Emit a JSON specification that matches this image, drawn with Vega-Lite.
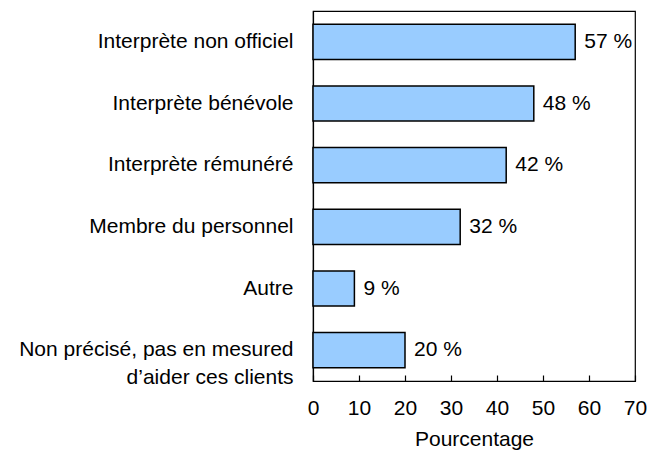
{
  "$schema": "https://vega.github.io/schema/vega-lite/v6.json",
  "width": 322,
  "height": 370,
  "autosize": {"type": "none"},
  "padding": {"left": 313, "top": 11, "right": 15, "bottom": 72},
  "background": "white",
  "config": {
    "font": "Liberation Sans",
    "view": {"stroke": "black", "strokeWidth": 1.2}
  },
  "data": {
    "values": [
      {"categorie": "Interprète non officiel", "pct": 57, "lbl": "57 %"},
      {"categorie": "Interprète bénévole", "pct": 48, "lbl": "48 %"},
      {"categorie": "Interprète rémunéré", "pct": 42, "lbl": "42 %"},
      {"categorie": "Membre du personnel", "pct": 32, "lbl": "32 %"},
      {"categorie": "Autre", "pct": 9, "lbl": "9 %"},
      {"categorie": "Non précisé, pas en mesured|d’aider ces clients", "pct": 20, "lbl": "20 %"}
    ]
  },
  "encoding": {
    "y": {
      "field": "categorie",
      "type": "nominal",
      "sort": ["Interprète non officiel", "Interprète bénévole", "Interprète rémunéré", "Membre du personnel", "Autre", "Non précisé, pas en mesured|d’aider ces clients"],
      "scale": {"paddingInner": 0.43, "paddingOuter": 0.215},
      "axis": {
        "title": null,
        "ticks": false,
        "domain": true,
        "domainColor": "black",
        "domainWidth": 1.2,
        "labelFontSize": 21,
        "labelColor": "black",
        "labelPadding": 20,
        "labelLineHeight": 28,
        "labelLimit": 400,
        "labelExpr": "split(datum.label, '|')"
      }
    },
    "x": {
      "field": "pct",
      "type": "quantitative",
      "scale": {"domain": [0, 70], "nice": false},
      "axis": {
        "title": "Pourcentage",
        "values": [0, 10, 20, 30, 40, 50, 60, 70],
        "grid": false,
        "domainColor": "black",
        "domainWidth": 1.2,
        "tickColor": "black",
        "tickWidth": 1.2,
        "tickSize": -6,
        "labelFontSize": 21,
        "labelColor": "black",
        "labelPadding": 22,
        "labelFlush": false,
        "titleFontSize": 21,
        "titleFontWeight": "normal",
        "titleColor": "black",
        "titlePadding": 10
      }
    }
  },
  "layer": [
    {
      "mark": {"type": "bar", "fill": "#99ccff", "stroke": "black", "strokeWidth": 1.5}
    },
    {
      "mark": {"type": "text", "align": "left", "baseline": "middle", "dx": 9, "fontSize": 21, "color": "black"},
      "encoding": {
        "text": {"field": "lbl", "type": "nominal"}
      }
    }
  ]
}
